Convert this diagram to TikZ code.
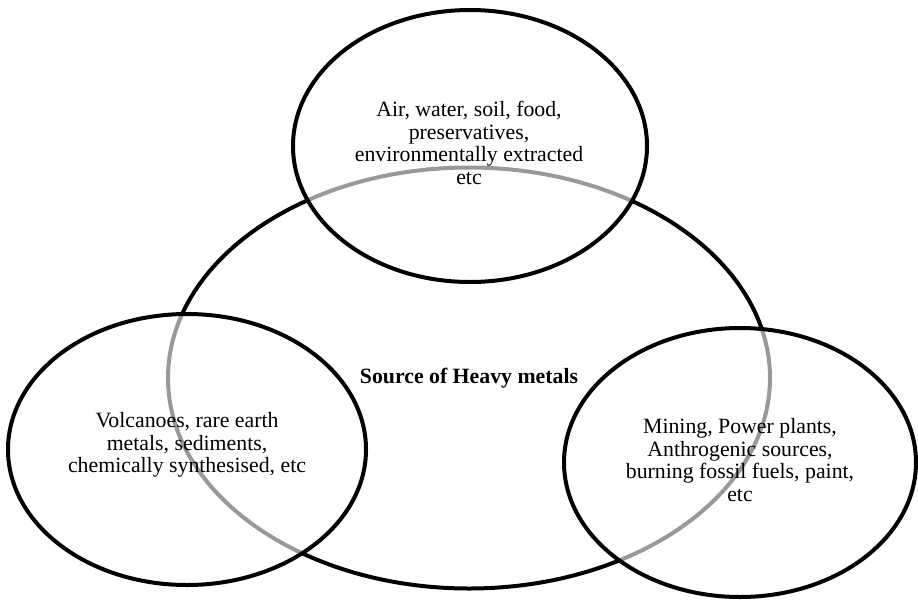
\documentclass[tikz,border=0pt]{standalone}
\usepackage{fontspec}
\setmainfont{Liberation Serif}
\usepackage{xcolor}
\usepackage{tikz}
\usetikzlibrary{shapes.geometric, positioning}
\definecolor{ink}{HTML}{000000}
\tikzset{
    core/.style={ellipse, draw=ink, line width=4pt, inner sep=0pt, align=center, font=\fontsize{21.8}{22.4}\selectfont\bfseries},
    source/.style={ellipse, draw=ink, line width=4pt, fill=white, fill opacity=0.6, text opacity=1, inner sep=0pt, align=center},
    label/.style={align=center, font=\fontsize{21.8}{22.4}\selectfont}
}
\begin{document}
\begin{tikzpicture}[x=1pt, y=-1pt]
    \useasboundingbox (0,0) rectangle (918,600);
    \node [core, minimum width=602pt, minimum height=421pt] (heavy) at (469,378) {Source of Heavy metals};
    \node [source, minimum width=354pt, minimum height=272pt] (env) at (470,146) {};
    \node [source, minimum width=358pt, minimum height=271pt] (natural) at (187,449.5) {};
    \node [source, minimum width=352pt, minimum height=269pt] (anthro) at (740,462.5) {};
    % texts on top of the faded overlaps
    \node [label] (envtext) at (469,143) {Air, water, soil, food,\\preservatives,\\environmentally extracted\\etc};
    \node [label] (naturaltext) at (187,445) {Volcanoes, rare earth\\metals, sediments,\\chemically synthesised, etc};
    \node [label] (anthrotext) at (740,460) {Mining, Power plants,\\Anthrogenic sources,\\burning fossil fuels, paint,\\etc};
\end{tikzpicture}
\end{document}
